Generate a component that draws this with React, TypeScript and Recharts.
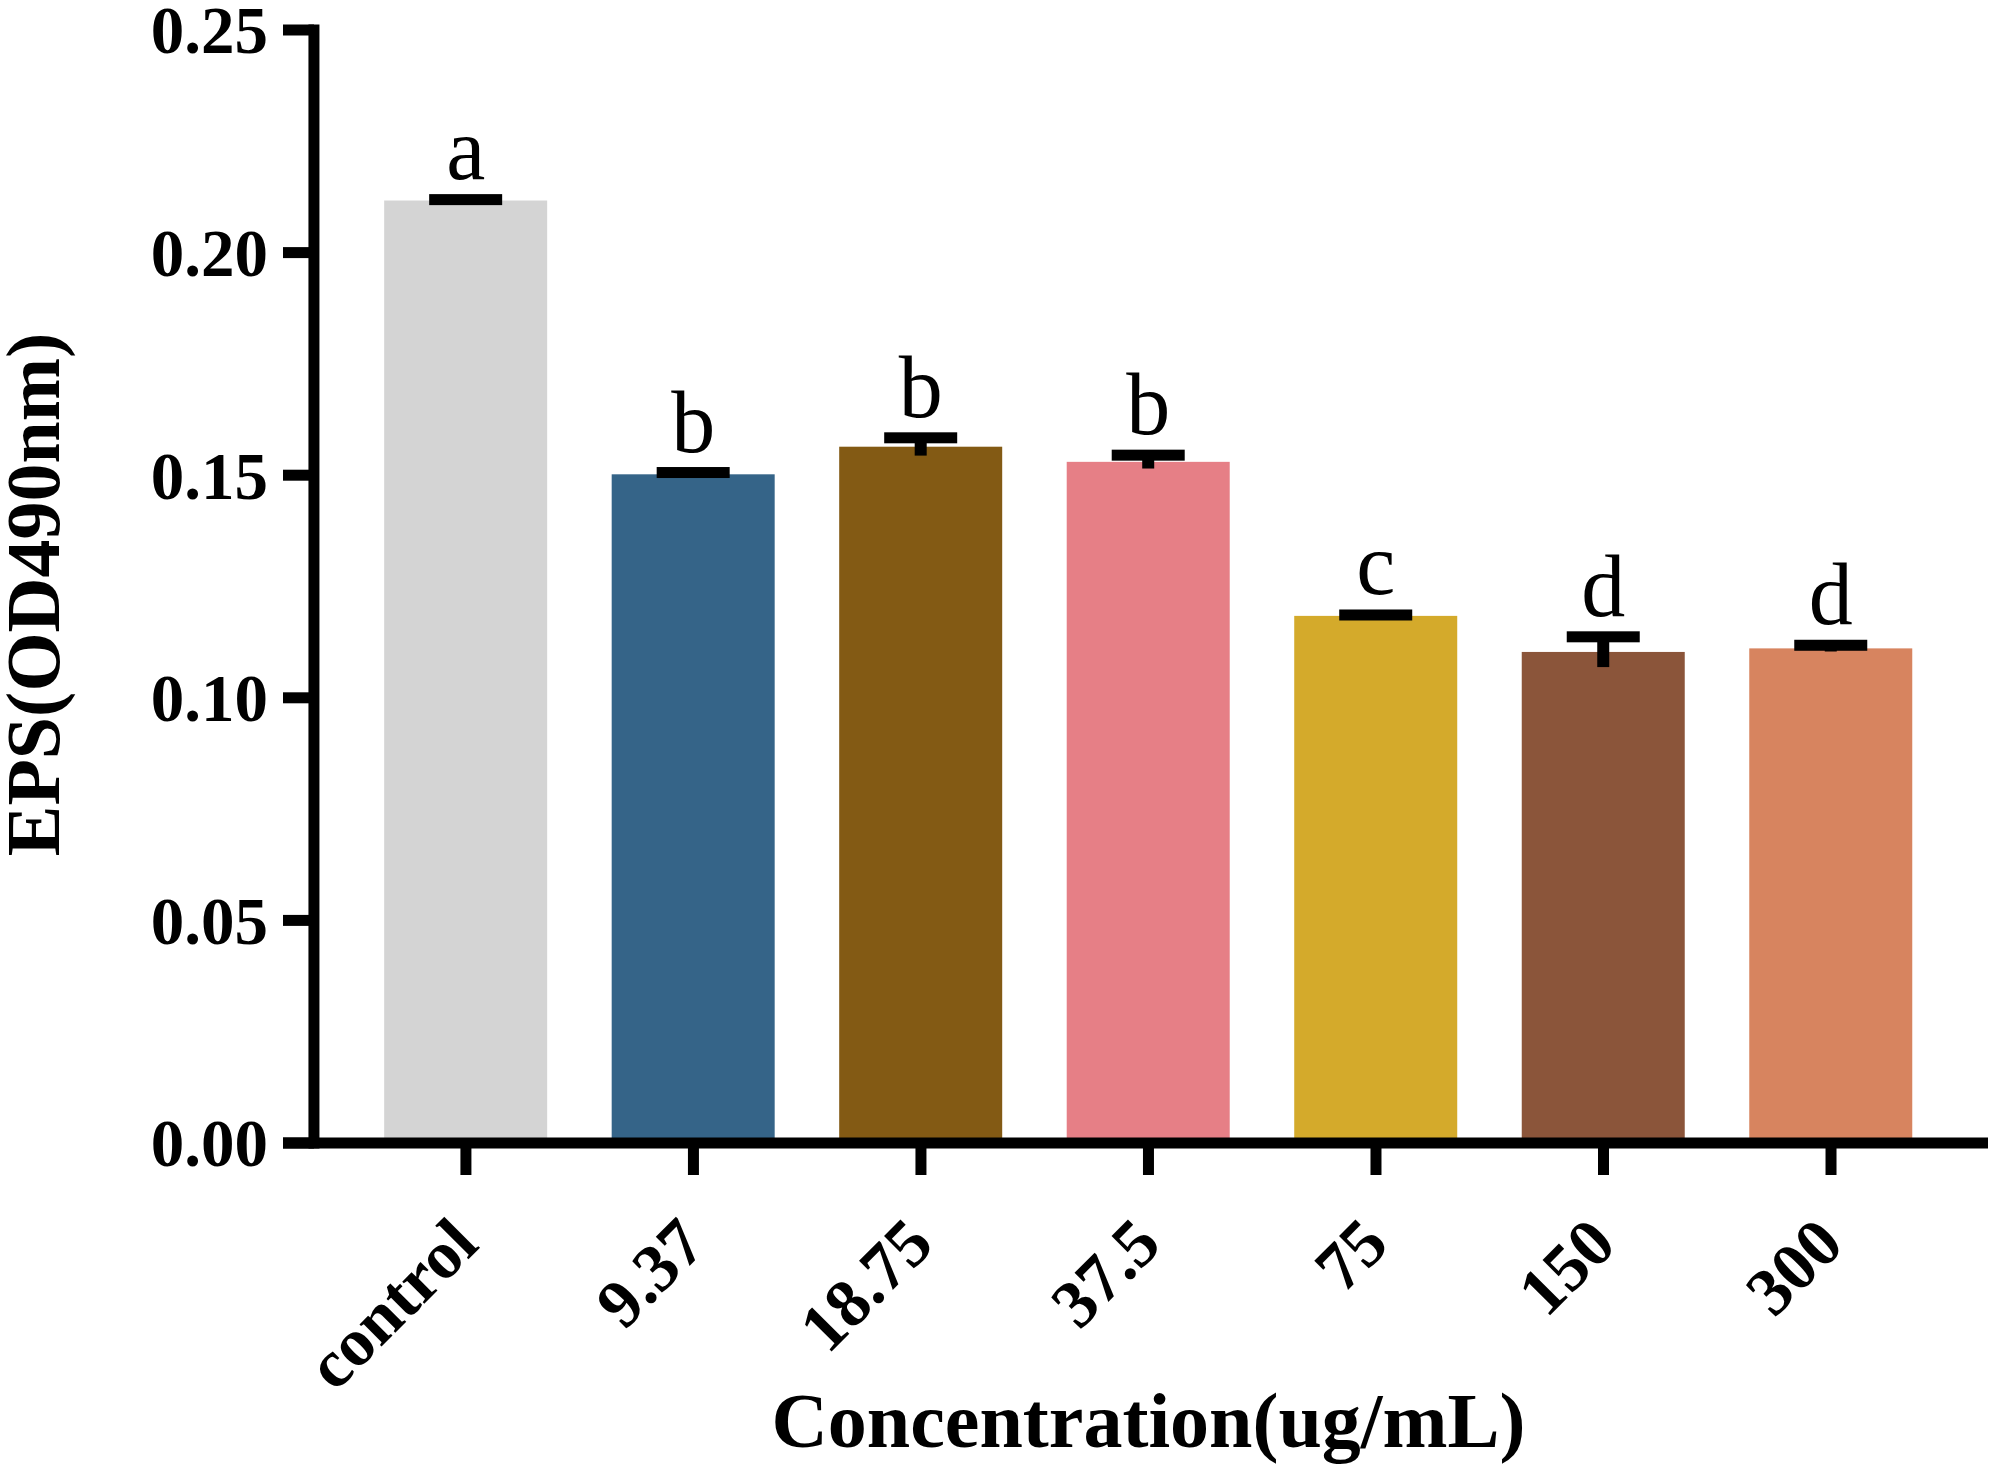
import React from "react";
import { Bar, BarChart, Label, ReferenceLine, XAxis, YAxis } from "recharts";

const categories = ["control", "9.37", "18.75", "37.5", "75", "150", "300"];
const means = [0.2117, 0.1502, 0.1564, 0.153, 0.1184, 0.1103, 0.1111];
const errors = [0.0002, 0.0004, 0.002, 0.0015, 0.0002, 0.0034, 0.0007];
const letters = ["a", "b", "b", "b", "c", "d", "d"];
const yTicks = [0, 0.05, 0.1, 0.15, 0.2, 0.25];
const colors = ["#d4d4d4", "#356488", "#835a14", "#e67f86", "#d4aa2b", "#8b553a", "#d7845f"];

const data = categories.map((name, i) => ({
  idx: i,
  name,
  mean: means[i],
  err: errors[i],
  letter: letters[i],
}));

const FONT = '"Liberation Serif", "Times New Roman", serif';
const AXIS_W = 11;

function BarWithError(props: any) {
  const { x, y, width, height, payload } = props;
  const pxPerUnit = height / payload.mean;
  const errPx = payload.err * pxPerUnit;
  const cx = x + width / 2;
  const capY = y - errPx;
  return (
    <g>
      <rect x={x} y={y} width={width} height={height} fill={colors[payload.idx]} />
      <rect x={cx - 6} y={capY} width={12} height={errPx * 2} fill="#000" />
      <rect x={cx - 36.5} y={capY - 5.5} width={73} height={11} fill="#000" />
      <text
        x={cx}
        y={capY - 21}
        textAnchor="middle"
        fontFamily={FONT}
        fontSize={88}
        fill="#000"
      >
        {payload.letter}
      </text>
    </g>
  );
}

function YTick(props: any) {
  const { x, y, payload } = props;
  return (
    <g>
      <line x1={x} x2={x + 31} y1={y} y2={y} stroke="#000" strokeWidth={AXIS_W} />
      <text
        x={x - 15}
        y={y}
        dy="0.35em"
        textAnchor="end"
        fontFamily={FONT}
        fontWeight="bold"
        fontSize={67}
        fill="#000"
      >
        {payload.value.toFixed(2)}
      </text>
    </g>
  );
}

function XTick(props: any) {
  const { x, y, payload } = props;
  return (
    <text
      transform={`translate(${x + 15},${y + 72}) rotate(-45)`}
      textAnchor="end"
      fontFamily={FONT}
      fontWeight="bold"
      fontSize={68}
      fill="#000"
    >
      {categories[payload.value]}
    </text>
  );
}

function XTitle(props: any) {
  const vb = props.viewBox;
  return (
    <text
      x={vb.x + vb.width / 2 + 13}
      y={vb.y + vb.height - 31}
      textAnchor="middle"
      fontFamily={FONT}
      fontWeight="bold"
      fontSize={78}
      fill="#000"
    >
      Concentration(ug/mL)
    </text>
  );
}

function YTitle(props: any) {
  const vb = props.viewBox;
  return (
    <text
      transform={`translate(${vb.x + 59},${vb.y + vb.height / 2 + 8}) rotate(-90)`}
      textAnchor="middle"
      fontFamily={FONT}
      fontWeight="bold"
      fontSize={76}
      fill="#000"
    >
      EPS(OD490nm)
    </text>
  );
}

export default function App() {
  return (
    <div style={{ position: "absolute", left: 0, top: 0, width: 1995, height: 1478, background: "#fff" }}>
      <BarChart
        width={1995}
        height={1478}
        data={data}
        margin={{ top: 30, right: 7, bottom: 0, left: 0 }}
      >
        <XAxis
          type="number"
          dataKey="idx"
          domain={[-0.804, 6.69]}
          ticks={[0, 1, 2, 3, 4, 5, 6]}
          interval={0}
          height={335}
          axisLine={{ stroke: "#000", strokeWidth: AXIS_W }}
          tickLine={{ stroke: "#000", strokeWidth: AXIS_W }}
          tickSize={32}
          tickMargin={0}
          tick={<XTick />}
        >
          <Label content={<XTitle />} />
        </XAxis>
        <YAxis
          type="number"
          domain={[0, 0.25]}
          ticks={yTicks}
          width={283}
          axisLine={false}
          tickLine={false}
          tickSize={0}
          tickMargin={0}
          tick={<YTick />}
        >
          <Label content={<YTitle />} />
        </YAxis>
        <ReferenceLine
          segment={[
            { x: -0.668, y: 0 },
            { x: -0.668, y: 0.25 },
          ]}
          stroke="#000"
          strokeWidth={AXIS_W}
          strokeLinecap="square"
          ifOverflow="visible"
        />
        <Bar dataKey="mean" barSize={163} shape={<BarWithError />} isAnimationActive={false} />
      </BarChart>
    </div>
  );
}
